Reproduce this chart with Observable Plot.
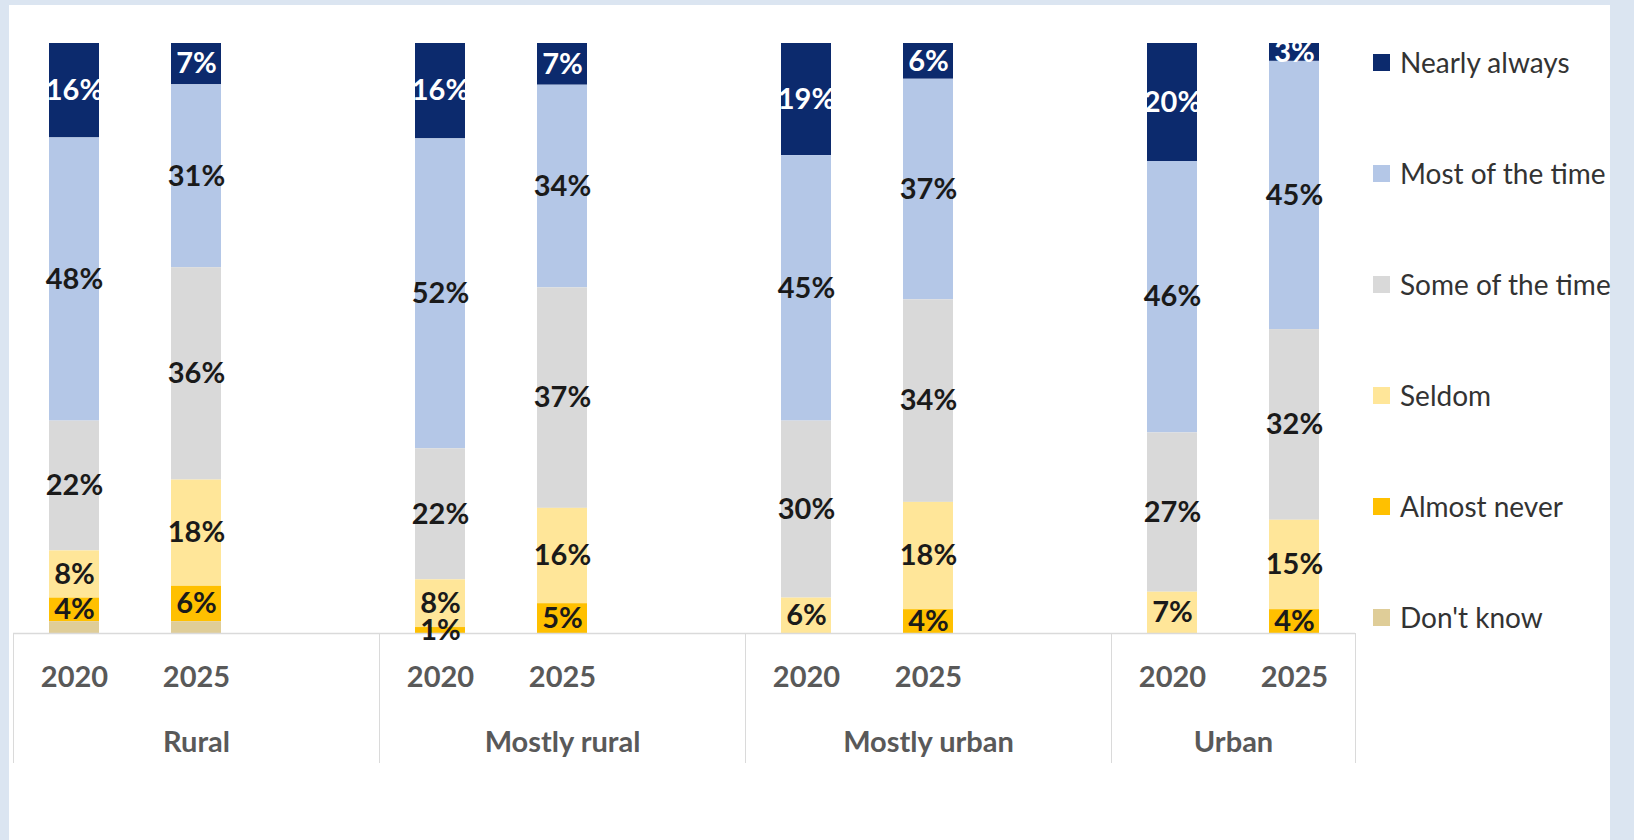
<!DOCTYPE html>
<html>
<head>
<meta charset="utf-8">
<script src="https://cdn.jsdelivr.net/npm/d3@7"></script>
<script src="https://cdn.jsdelivr.net/npm/@observablehq/plot@0.6"></script>
<style>
  html, body { margin: 0; padding: 0; background: #dbe5f1; }
  #wrap { position: relative; width: 1634px; height: 840px; background: #dbe5f1; overflow: hidden; }
  #panel { position: absolute; left: 9px; top: 5px; width: 1601px; height: 835px; background: #ffffff; }
  #panel svg { display: block; }
  #legend { position: absolute; left: 1373px; top: 47px; }
  #legend > div { display: flex; flex-direction: column; align-items: flex-start; flex-wrap: nowrap; margin: 0; min-height: 0;
    font-family: Lato, "Open Sans", sans-serif; font-size: 28px; color: #333333; }
  #legend > div > span { display: flex; align-items: center; height: 30px; margin: 0 0 81px 0; white-space: nowrap; }
  #legend > div > span > svg { margin-right: 10px; }
</style>
</head>
<body>
<div id="wrap">
  <div id="panel"></div>
  <div id="legend"></div>
</div>
<script>
// ---- Data ----
const groups = ["Rural", "Mostly rural", "Mostly urban", "Urban"];
const years = ["2020", "2025"];
const categories = ["Nearly always", "Most of the time", "Some of the time", "Seldom", "Almost never", "Don't know"];
const colors = ["#0c2a6d", "#b4c7e7", "#d9d9d9", "#ffe699", "#ffc000", "#dfcd98"];

// values per bar: Rural 2020, Rural 2025, Mostly rural 2020, Mostly rural 2025,
// Mostly urban 2020, Mostly urban 2025, Urban 2020, Urban 2025
const nearlyAlways  = [16, 7, 16, 7, 19, 6, 20, 3];
const mostOfTheTime = [48, 31, 52, 34, 45, 37, 46, 45];
const someOfTheTime = [22, 36, 22, 37, 30, 34, 27, 32];
const seldom        = [8, 18, 8, 16, 6, 18, 7, 15];
const almostNever   = [4, 6, 1, 5, 0, 4, 0, 4];
const dontKnow      = [2, 2, 0, 0, 0, 0, 0, 0];
const seriesValues = [nearlyAlways, mostOfTheTime, someOfTheTime, seldom, almostNever, dontKnow];

// ---- Build slots (each group gets one empty slot after it, except the last) ----
const slots = [];
const groupSpans = [];
let s = 0;
groups.forEach((g, gi) => {
  const start = s;
  years.forEach(y => { slots.push({group: g, year: y, idx: s}); s++; });
  if (gi < groups.length - 1) s++;
  groupSpans.push({name: g, start, end: s});
});
const nSlots = s;
const boundaries = [0, ...groupSpans.map(d => d.end)];

const rows = [];
slots.forEach((slot, bi) => {
  categories.forEach((c, ci) => {
    const v = seriesValues[ci][bi];
    rows.push({
      group: slot.group, year: slot.year, category: c, value: v,
      x1: slot.idx, x2: slot.idx + 1, xc: slot.idx + 0.5,
      label: (v > 0 && c !== "Don't know") ? v + "%" : ""
    });
  });
});

const stackOrder = [...categories].reverse(); // bottom first
const stackOpts = {order: stackOrder, offset: "normalize"};
const labelFont = {fontSize: 29, fontWeight: "bold", fontFamily: "Lato, 'Open Sans', sans-serif"};

const chart = Plot.plot({
  width: 1601,
  height: 835,
  marginLeft: 4,
  marginRight: 255,
  marginTop: 38,
  marginBottom: 207,
  style: {background: "transparent", color: "#dadada", overflow: "visible"},
  x: {domain: [0, nSlots], ticks: boundaries, tickSize: 130, tickFormat: () => "", label: null},
  y: {domain: [0, 1], axis: null},
  color: {domain: categories, range: colors},
  marks: [
    Plot.rect(rows, Plot.stackY({
      ...stackOpts, x1: "x1", x2: "x2", y: "value", z: "category", fill: "category",
      insetLeft: 36, insetRight: 36
    })),
    Plot.ruleY([0], {stroke: "#dadada", strokeWidth: 1.5}),
    Plot.text(rows, Plot.stackY({
      ...stackOpts, x: "xc", y: "value", z: "category",
      text: d => d.category === "Nearly always" ? d.label : "",
      fill: "white", ...labelFont
    })),
    Plot.text(rows, Plot.stackY({
      ...stackOpts, x: "xc", y: "value", z: "category",
      text: d => d.category !== "Nearly always" ? d.label : "",
      fill: "#1a1a1a", ...labelFont
    })),
    Plot.text(slots, {
      x: d => d.idx + 0.5, text: "year", frameAnchor: "bottom", dy: 44, lineAnchor: "middle",
      fill: "#595959", ...labelFont
    }),
    Plot.text(groupSpans, {
      x: d => (d.start + d.end) / 2, text: "name", frameAnchor: "bottom", dy: 109, lineAnchor: "middle",
      fill: "#595959", ...labelFont
    })
  ]
});
document.getElementById("panel").appendChild(chart);

const legend = Plot.legend({
  color: {domain: categories, range: colors},
  legend: "swatches",
  swatchSize: 17
});
document.getElementById("legend").appendChild(legend);
</script>
</body>
</html>
